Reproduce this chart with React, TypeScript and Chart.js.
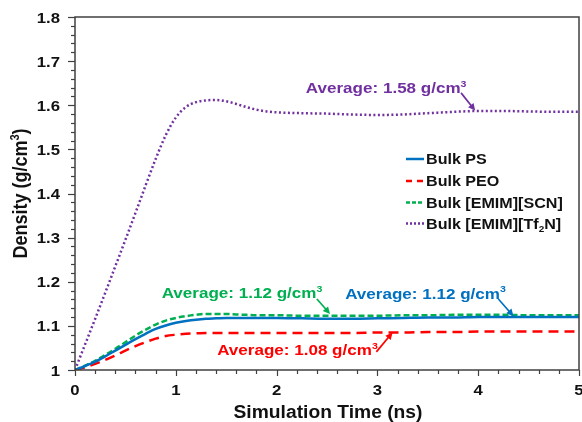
import React, { useEffect, useRef } from 'react';
import { Chart, registerables } from 'chart.js';

Chart.register(...registerables);

// ---------- data ----------
const TIME = [0, 0.1, 0.2, 0.3, 0.4, 0.5, 0.6, 0.7, 0.8, 0.9, 1.0, 1.1, 1.2, 1.3, 1.4, 1.5, 1.6, 1.7, 1.8, 1.9, 2.0, 2.25, 2.5, 2.75, 3.0, 3.25, 3.5, 3.75, 4.0, 4.25, 4.5, 4.75, 5.0];
const BULK_PS = [1.000, 1.009, 1.019, 1.031, 1.044, 1.057, 1.070, 1.082, 1.093, 1.101, 1.107, 1.111, 1.114, 1.116, 1.117, 1.118, 1.118, 1.118, 1.118, 1.118, 1.118, 1.117, 1.116, 1.116, 1.117, 1.118, 1.119, 1.119, 1.120, 1.120, 1.120, 1.120, 1.120];
const BULK_PEO = [1.000, 1.006, 1.014, 1.023, 1.033, 1.044, 1.054, 1.063, 1.071, 1.077, 1.080, 1.082, 1.083, 1.084, 1.084, 1.084, 1.084, 1.084, 1.084, 1.084, 1.084, 1.084, 1.084, 1.084, 1.085, 1.085, 1.086, 1.086, 1.087, 1.087, 1.087, 1.087, 1.087];
const BULK_SCN = [1.000, 1.010, 1.021, 1.034, 1.048, 1.063, 1.078, 1.091, 1.103, 1.112, 1.118, 1.122, 1.125, 1.127, 1.127, 1.127, 1.126, 1.125, 1.124, 1.124, 1.124, 1.123, 1.123, 1.123, 1.123, 1.124, 1.124, 1.125, 1.125, 1.125, 1.124, 1.124, 1.124];
const BULK_TF2N = [1.000, 1.058, 1.116, 1.175, 1.235, 1.295, 1.356, 1.418, 1.478, 1.532, 1.572, 1.596, 1.607, 1.611, 1.612, 1.609, 1.603, 1.596, 1.590, 1.586, 1.584, 1.582, 1.581, 1.579, 1.578, 1.579, 1.582, 1.585, 1.587, 1.587, 1.586, 1.585, 1.585];

const X_TICKS = ['0', '1', '2', '3', '4', '5'];
const Y_TICKS = ['1', '1.1', '1.2', '1.3', '1.4', '1.5', '1.6', '1.7', '1.8'];

const SERIES_COLORS = ['#0070C0', '#FF0000', '#00B050', '#7030A0'];
const SERIES_DASH = [[], [10, 6], [6, 3], [2, 2.5]];
const LEGEND_LABELS = [
  [{ t: 'Bulk PS' }],
  [{ t: 'Bulk PEO' }],
  [{ t: 'Bulk [EMIM][SCN]' }],
  [{ t: 'Bulk [EMIM][Tf' }, { t: '2', sub: true }, { t: 'N]' }],
];

// annotations (data units): text anchor (left, baseline), arrow start, arrow tip
const ANNOT_SERIES = [3, 2, 0, 1];
const ANNOT_TEXT = ['Average: 1.58 g/cm', 'Average: 1.12 g/cm', 'Average: 1.12 g/cm', 'Average: 1.08 g/cm'];
const ANNOT_POS = [[2.29, 1.627], [0.86, 1.163], [2.68, 1.161], [1.41, 1.033]];
const ARROW_FROM = [[3.83, 1.628], [2.40, 1.161], [4.20, 1.161], [2.99, 1.041]];
const ARROW_TO = [[3.97, 1.588], [2.53, 1.127], [4.35, 1.122], [3.15, 1.085]];

const X_TITLE = 'Simulation Time (ns)';
const Y_TITLE = [{ t: 'Density (g/cm' }, { t: '3', sup: true }, { t: ')' }];

// ---------- drawing helpers ----------
const FONT = '"Liberation Sans", Arial, sans-serif';
const SX = 1.12;
const AXIS_COLOR = '#404040';

type Seg = { t: string; sup?: boolean; sub?: boolean };

function segFont(size: number, s: Seg) {
  return s.sup || s.sub ? size * 0.62 : size;
}

function measureRich(ctx: CanvasRenderingContext2D, segs: Seg[], size: number, weight = 'bold') {
  let w = 0;
  for (const s of segs) {
    ctx.font = `${weight} ${segFont(size, s)}px ${FONT}`;
    w += ctx.measureText(s.t).width;
  }
  return w;
}

function drawRichLocal(ctx: CanvasRenderingContext2D, segs: Seg[], size: number, color: string, weight = 'bold') {
  let x = 0;
  ctx.fillStyle = color;
  ctx.textBaseline = 'alphabetic';
  ctx.textAlign = 'left';
  for (const s of segs) {
    const fs = segFont(size, s);
    ctx.font = `${weight} ${fs}px ${FONT}`;
    const dy = s.sup ? -size * 0.42 : s.sub ? size * 0.22 : 0;
    ctx.fillText(s.t, x, dy);
    x += ctx.measureText(s.t).width;
  }
  return x;
}

function drawRich(ctx: CanvasRenderingContext2D, segs: Seg[], x: number, y: number, size: number, color: string, align = 'left', sx = SX, weight = 'bold') {
  ctx.save();
  const w = measureRich(ctx, segs, size, weight);
  ctx.translate(x, y);
  ctx.scale(sx, 1);
  if (align === 'center') ctx.translate(-w / 2, 0);
  if (align === 'right') ctx.translate(-w, 0);
  drawRichLocal(ctx, segs, size, color, weight);
  ctx.restore();
  return w * sx;
}

function drawArrow(ctx: CanvasRenderingContext2D, x1: number, y1: number, x2: number, y2: number, color: string) {
  const ang = Math.atan2(y2 - y1, x2 - x1);
  const hl = 7, hw = 3.5;
  ctx.save();
  ctx.strokeStyle = color;
  ctx.fillStyle = color;
  ctx.lineWidth = 1.7;
  ctx.setLineDash([]);
  ctx.beginPath();
  ctx.moveTo(x1, y1);
  ctx.lineTo(x2 - Math.cos(ang) * hl * 0.8, y2 - Math.sin(ang) * hl * 0.8);
  ctx.stroke();
  ctx.beginPath();
  ctx.moveTo(x2, y2);
  ctx.lineTo(x2 - Math.cos(ang) * hl - Math.sin(ang) * hw, y2 - Math.sin(ang) * hl + Math.cos(ang) * hw);
  ctx.lineTo(x2 - Math.cos(ang) * hl + Math.sin(ang) * hw, y2 - Math.sin(ang) * hl - Math.cos(ang) * hw);
  ctx.closePath();
  ctx.fill();
  ctx.restore();
}

const overlayPlugin = {
  id: 'overlay',
  afterDatasetsDraw(chart: any) {
    const { ctx, chartArea: a, scales } = chart;
    const xs = scales.x;
    const ys = scales.y;
    ctx.save();

    // frame
    ctx.strokeStyle = AXIS_COLOR;
    ctx.lineWidth = 1.5;
    ctx.setLineDash([]);
    ctx.strokeRect(a.left, a.top, a.right - a.left, a.bottom - a.top);

    // y ticks (major 0.1, minor 0.02)
    ctx.lineWidth = 1.2;
    for (let i = 0; i <= 40; i++) {
      const v = 1 + i * 0.02;
      const py = Math.round(ys.getPixelForValue(v)) + 0.5;
      const len = i % 5 === 0 ? 7 : 4;
      ctx.beginPath();
      ctx.moveTo(a.left - len, py);
      ctx.lineTo(a.left, py);
      ctx.stroke();
    }
    // x ticks (major 1, minor 0.2)
    for (let i = 0; i <= 25; i++) {
      const v = i * 0.2;
      const px = Math.round(xs.getPixelForValue(v)) + 0.5;
      const len = i % 5 === 0 ? 6 : 4;
      ctx.beginPath();
      ctx.moveTo(px, a.bottom);
      ctx.lineTo(px, a.bottom + len);
      ctx.stroke();
    }

    // tick labels
    Y_TICKS.forEach((lab) => {
      const py = ys.getPixelForValue(parseFloat(lab));
      drawRich(ctx, [{ t: lab }], a.left - 15, py + 5.5, 15.5, '#111', 'right', 1.08);
    });
    X_TICKS.forEach((lab) => {
      const px = xs.getPixelForValue(parseFloat(lab));
      drawRich(ctx, [{ t: lab }], px, a.bottom + 25, 15.5, '#111', 'center', 1.08);
    });

    // axis titles
    drawRich(ctx, [{ t: X_TITLE }], (a.left + a.right) / 2 + 1, a.bottom + 48, 17.5, '#111', 'center', 1.1);
    ctx.save();
    ctx.translate(27, (a.top + a.bottom) / 2);
    ctx.scale(SX, 1);
    ctx.rotate(-Math.PI / 2);
    const w = measureRich(ctx, Y_TITLE, 18);
    ctx.translate(-w / 2, 0);
    drawRichLocal(ctx, Y_TITLE, 18, '#111');
    ctx.restore();

    // legend
    const lx = a.left + 331;
    const rows = [a.top + 142, a.top + 164, a.top + 185.5, a.top + 206.5];
    LEGEND_LABELS.forEach((segs, i) => {
      const ry = rows[i];
      ctx.save();
      ctx.strokeStyle = SERIES_COLORS[i];
      ctx.lineWidth = 2.5;
      ctx.setLineDash(i === 1 ? [6, 5] : i === 2 ? [4, 2] : i === 3 ? [2, 2] : []);
      ctx.beginPath();
      ctx.moveTo(lx, ry);
      ctx.lineTo(lx + 18, ry);
      ctx.stroke();
      ctx.restore();
      drawRich(ctx, segs, lx + 20, ry + 5, 14, '#111', 'left', 1.15);
    });

    // annotations
    ANNOT_SERIES.forEach((si, i) => {
      const color = SERIES_COLORS[si];
      const tx = xs.getPixelForValue(ANNOT_POS[i][0]);
      const ty = ys.getPixelForValue(ANNOT_POS[i][1]);
      drawRich(ctx, [{ t: ANNOT_TEXT[i] }, { t: '3', sup: true }], tx, ty, 15.5, color, 'left', 1.1);
      drawArrow(
        ctx,
        xs.getPixelForValue(ARROW_FROM[i][0]), ys.getPixelForValue(ARROW_FROM[i][1]),
        xs.getPixelForValue(ARROW_TO[i][0]), ys.getPixelForValue(ARROW_TO[i][1]),
        color
      );
    });

    ctx.restore();
  },
};

export default function App() {
  const ref = useRef<HTMLCanvasElement>(null);

  useEffect(() => {
    document.body.style.margin = '0';
    const canvas = ref.current;
    if (!canvas) return;
    const series = [BULK_PS, BULK_PEO, BULK_SCN, BULK_TF2N];
    const names = ['Bulk PS', 'Bulk PEO', 'Bulk [EMIM][SCN]', 'Bulk [EMIM][Tf2N]'];
    const chart = new Chart(canvas, {
      type: 'line',
      data: {
        datasets: series.map((vals, i) => ({
          label: names[i],
          data: TIME.map((t, j) => ({ x: t, y: vals[j] })),
          borderColor: SERIES_COLORS[i],
          backgroundColor: SERIES_COLORS[i],
          borderWidth: 2.5,
          borderDash: SERIES_DASH[i],
          pointRadius: 0,
          fill: false,
          cubicInterpolationMode: 'monotone',
        })),
      },
      options: {
        responsive: false,
        animation: false,
        events: [],
        layout: { padding: { top: 17, right: 3, left: 0, bottom: 0 } },
        plugins: { legend: { display: false }, tooltip: { enabled: false } },
        scales: {
          x: {
            type: 'linear',
            min: 0,
            max: 5,
            ticks: { display: false },
            grid: { display: false },
            border: { display: false },
            afterFit: (s: any) => { s.height = 52; },
          },
          y: {
            type: 'linear',
            min: 1,
            max: 1.8,
            ticks: { display: false },
            grid: { display: false },
            border: { display: false },
            afterFit: (s: any) => { s.width = 75; },
          },
        },
      } as any,
      plugins: [overlayPlugin],
    });
    return () => chart.destroy();
  }, []);

  return <canvas ref={ref} width={582} height={422} style={{ display: 'block' }} />;
}
